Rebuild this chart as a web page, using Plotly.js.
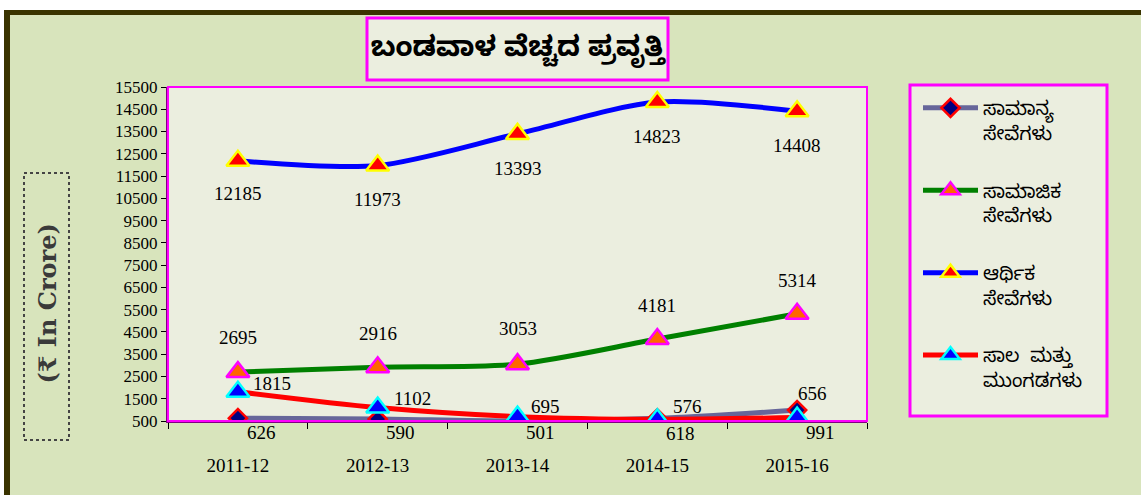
<!DOCTYPE html>
<html>
<head>
<meta charset="utf-8">
<script src="https://cdn.plot.ly/plotly-3.0.1.min.js"></script>
<style>html,body{margin:0;padding:0;background:#fff;}#chart{width:1141px;height:495px;}</style>
</head>
<body>
<div id="chart"></div>
<script>
// ---- data ----
const years = ["2011-12", "2012-13", "2013-14", "2014-15", "2015-16"];
const seriesNames = ["ಸಾಮಾನ್ಯ<br>ಸೇವೆಗಳು", "ಸಾಮಾಜಿಕ<br>ಸೇವೆಗಳು", "ಆರ್ಥಿಕ<br>ಸೇವೆಗಳು", "ಸಾಲ  ಮತ್ತು<br>ಮುಂಗಡಗಳು"];
const generalServices = [626, 590, 501, 618, 991];
const socialServices = [2695, 2916, 3053, 4181, 5314];
const economicServices = [12185, 11973, 13393, 14823, 14408];
const loansAdvances = [1815, 1102, 695, 576, 656];
const yTicks = [500, 1500, 2500, 3500, 4500, 5500, 6500, 7500, 8500, 9500, 10500, 11500, 12500, 13500, 14500, 15500];
const chartTitle = "ಬಂಡವಾಳ ವೆಚ್ಚದ ಪ್ರವೃತ್ತಿ";
const yAxisTitle = "(₹ In Crore)";

// ---- styles ----
const kn = '"Noto Sans Kannada","Lohit Kannada","Tunga","Noto Sans",sans-serif';
const serif = '"Liberation Serif","Times New Roman",serif';
const styles = [
  {line: '#66669a', sym: 'diamond', fill: '#000080', edge: '#ff0000', size: 14},
  {line: '#008000', sym: 'triangle-up', fill: '#ff6600', edge: '#ff00ff', size: 20},
  {line: '#0000ff', sym: 'triangle-up', fill: '#ff0000', edge: '#ffff00', size: 20},
  {line: '#ff0000', sym: 'triangle-up', fill: '#0000ff', edge: '#00ffff', size: 20}
];
// label pixel offsets [dx, dy] per series / point
const labelOffsets = [
  [[24,-14],[23,-13],[23,-12],[23,-15],[23,-22]],
  [[0,35],[0,34],[0,36],[0,34],[0,33]],
  [[0,-33],[0,-34],[0,-35],[0,-34],[0,-34]],
  [[34,8],[35,9],[28,10],[30,13],[15,24]]
];
const labelSeries = [generalServices, socialServices, economicServices, loansAdvances];

const allSeries = [generalServices, socialServices, economicServices, loansAdvances];
const traces = allSeries.map((vals, i) => ({
  type: 'scatter', mode: 'lines+markers', x: years, y: vals, name: seriesNames[i],
  legendgroup: 'g' + i,
  line: {color: styles[i].line, width: 5, shape: 'spline', smoothing: 0.8},
  marker: {symbol: styles[i].sym, color: styles[i].fill, size: styles[i].size,
           line: {color: styles[i].edge, width: 2.5}},
  hoverinfo: 'x+y'
}));

const annotations = [];
labelSeries.forEach((vals, i) => {
  vals.forEach((v, j) => {
    annotations.push({x: years[j], y: v, xref: 'x', yref: 'y', text: String(v), showarrow: false,
      xshift: labelOffsets[i][j][0], yshift: labelOffsets[i][j][1],
      font: {family: serif, size: 19, color: '#000'}});
  });
});
// y-axis title (boxed, rotated)
annotations.push({xref: 'paper', yref: 'paper', x: -0.1731, y: 0.35, xshift: -16, text: yAxisTitle,
  textangle: -90, showarrow: false, font: {family: '"DejaVu Serif",serif', size: 24, color: '#3a3a3a', weight: 'bold'}});

const px = v => (v - 168) / 699;
const py = v => (421 - v) / 334;

const shapes = [
  {type: 'rect', xref: 'paper', yref: 'paper', x0: px(0), x1: px(1141), y0: py(0), y1: py(10), fillcolor: '#ffffff', line: {width: 0}, layer: 'below'},
  {type: 'rect', xref: 'paper', yref: 'paper', x0: px(0), x1: px(4), y0: py(0), y1: py(495), fillcolor: '#ffffff', line: {width: 0}, layer: 'below'},
  {type: 'rect', xref: 'paper', yref: 'paper', x0: px(4), x1: px(1141), y0: py(15), y1: py(10), fillcolor: '#3a3300', line: {width: 0}, layer: 'below'},
  {type: 'rect', xref: 'paper', yref: 'paper', x0: px(4), x1: px(10), y0: py(495), y1: py(10), fillcolor: '#3a3300', line: {width: 0}, layer: 'below'},
  // title box
  {type: 'rect', xref: 'paper', yref: 'paper', x0: px(367), x1: px(668), y0: py(80), y1: py(18), fillcolor: '#ebeedf', line: {color: '#ff00ff', width: 3}, layer: 'below'},
  // legend box
  {type: 'rect', xref: 'paper', yref: 'paper', x0: px(910), x1: px(1107), y0: py(416), y1: py(85), fillcolor: '#ebeedf', line: {color: '#ff00ff', width: 3}, layer: 'below'},
  // y title box
  {type: 'rect', xref: 'paper', yref: 'paper', x0: px(24), x1: px(69), y0: py(440), y1: py(173), fillcolor: 'rgba(0,0,0,0)', line: {color: '#444', width: 2, dash: 'dot'}, layer: 'below'},
  // plot frame
  {type: 'rect', xref: 'paper', yref: 'paper', x0: 0, x1: 1, y0: 0, y1: 1, fillcolor: 'rgba(0,0,0,0)', line: {color: '#ff00ff', width: 2}, layer: 'above'}
];

const layout = {
  width: 1141, height: 495,
  margin: {l: 168, r: 274, t: 87, b: 74},
  paper_bgcolor: '#d8e4bc', plot_bgcolor: '#ebeedf',
  title: {text: chartTitle, x: 0.5, xref: 'paper', xanchor: 'center', y: 1 - 46 / 495, yref: 'container', yanchor: 'middle',
          font: {family: kn, size: 28, color: '#000', weight: 'bold'}},
  xaxis: {type: 'category', tickson: 'boundaries', ticks: 'outside', ticklen: 6, tickcolor: '#000',
          showgrid: false, zeroline: false, showline: true, linecolor: '#800080', linewidth: 2,
          ticklabelstandoff: 26, tickfont: {family: serif, size: 19, color: '#000'}, range: [-0.5, 4.5]},
  yaxis: {range: [500, 15500], tickvals: yTicks, ticktext: yTicks.map(String), ticks: 'outside', ticklen: 5, tickcolor: '#000',
          showgrid: false, zeroline: false, showline: true, linecolor: '#800080', linewidth: 2,
          tickfont: {family: serif, size: 17, color: '#000'}},
  showlegend: true,
  legend: {x: px(918), y: py(89), xanchor: 'left', yanchor: 'top', bgcolor: 'rgba(0,0,0,0)', borderwidth: 0,
           font: {family: kn, size: 19, color: '#000'}, itemwidth: 55, tracegroupgap: 30, traceorder: 'grouped', valign: 'top',
           maxheight: 600},
  annotations: annotations,
  shapes: shapes
};

Plotly.newPlot('chart', traces, layout, {displayModeBar: false, staticPlot: true});
</script>
</body>
</html>
